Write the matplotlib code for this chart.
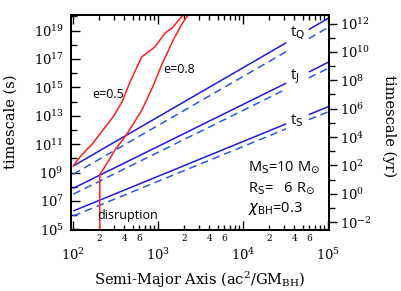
import numpy as np
import matplotlib
matplotlib.use('Agg')
import matplotlib.pyplot as plt
from matplotlib.ticker import FixedLocator, FuncFormatter, NullFormatter

# ---------------- data ----------------
# semi-major axis at the line ends and at the edges of the label gap
a_line = [1e2, 3.2e4, 5.9e4, 1e5]
tQ_solid = [2.9e9, 1.4e18, 1.2e19, 7.4e19]
tQ_dashed = [7.6e8, 3.3e17, 2.7e18, 1.7e19]
tJ_solid = [7.8e7, 2.0e15, 1.2e16, 5.9e16]
tJ_dashed = [3.0e7, 7.6e14, 4.7e15, 2.2e16]
tS_solid = [1.95e6, 2.7e12, 1.2e13, 4.4e13]
tS_dashed = [8.7e5, 1.2e12, 5.4e12, 1.9e13]

a_e05 = [100, 120, 171, 223, 293, 374, 465, 638, 914, 1200, 1449, 1954]
t_e05 = [2.9e9, 1.26e10, 1.2e11, 1.0e12, 8.1e12, 9.3e13, 2.4e15, 1.4e17,
         7.1e17, 6.8e18, 1.5e19, 1.26e20]

a_e08 = [205, 205, 310, 428, 640, 860, 1120, 1500, 1930, 2234]
t_e08 = [9e4, 6.8e8, 3.9e10, 5.2e11, 2.5e13, 1.1e15, 5.2e16, 2.2e18,
         3.5e19, 1.26e20]

x_major = [1e2, 1e3, 1e4, 1e5]
y_left_major_exp = list(range(5, 21, 2))
y_left_minor_exp = list(range(6, 21, 2))
y_right_major_exp = list(range(-2, 13, 2))
y_right_minor_exp = list(range(-1, 13, 2))
sec_per_yr = 3.156e7

# ---------------- style ----------------
plt.rcParams['font.family'] = ['DejaVu Serif']
plt.rcParams['mathtext.fontset'] = 'dejavuserif'

blue = '#1c1cd8'
blue_d = '#2a58e4'
red = '#ff1e1e'

fig = plt.figure(figsize=(4.01, 2.91), dpi=100)
ax = fig.add_axes([70.7 / 401, 1 - 230 / 291, 258.3 / 401, 215 / 291])
ax.set_xscale('log')
ax.set_yscale('log')

for s, d in [(tQ_solid, tQ_dashed), (tJ_solid, tJ_dashed), (tS_solid, tS_dashed)]:
    ax.plot(a_line[:2], s[:2], color=blue, lw=1.1, solid_capstyle='butt')
    ax.plot(a_line[2:], s[2:], color=blue, lw=1.1, solid_capstyle='butt')
    ax.plot(a_line[:2], d[:2], color=blue_d, lw=1.1, dashes=(5, 3.2))
    ax.plot(a_line[2:], d[2:], color=blue_d, lw=1.1, dashes=(5, 3.2))

ax.plot(a_e05, t_e05, color=red, lw=1.1)
ax.plot(a_e08, t_e08, color=red, lw=1.1)

ylo, yhi = 10 ** 4.95, 10 ** 20.1
ax.set_xlim(93.2, 1.019e5)
ax.set_ylim(ylo, yhi)

# x ticks
ax.xaxis.set_major_locator(FixedLocator(x_major))
ax.xaxis.set_major_formatter(FuncFormatter(lambda v, p: r'$10^{%d}$' % round(np.log10(v))))
minor_x = [m * 10.0 ** e for e in (2, 3, 4) for m in range(2, 10)]
ax.xaxis.set_minor_locator(FixedLocator(minor_x))


def minor_fmt(v, p):
    m = int(round(v / 10 ** np.floor(np.log10(v) + 1e-9)))
    return str(m) if m in (2, 4, 6) else ''


ax.xaxis.set_minor_formatter(FuncFormatter(minor_fmt))
ax.tick_params(axis='x', which='major', direction='in', length=6.5, width=1.0,
               top=True, pad=12, labelsize=9.5)
ax.tick_params(axis='x', which='minor', direction='in', length=3.5, width=1.0,
               top=True, pad=3, labelsize=6.5)

# left y ticks
ax.yaxis.set_major_locator(FixedLocator([10.0 ** e for e in y_left_major_exp]))
ax.yaxis.set_major_formatter(FuncFormatter(lambda v, p: r'$10^{%d}$' % round(np.log10(v))))
ax.yaxis.set_minor_locator(FixedLocator([10.0 ** e for e in y_left_minor_exp]))
ax.yaxis.set_minor_formatter(NullFormatter())
ax.tick_params(axis='y', which='major', direction='in', length=6.5, width=1.0,
               right=False, pad=5, labelsize=9.5)
ax.tick_params(axis='y', which='minor', direction='in', length=4.5, width=1.0, right=False)

# right y axis (years)
ax2 = ax.twinx()
ax2.set_yscale('log')
ax2.set_ylim(ylo / sec_per_yr, yhi / sec_per_yr)
ax2.yaxis.set_major_locator(FixedLocator([10.0 ** e for e in y_right_major_exp]))
ax2.yaxis.set_major_formatter(FuncFormatter(lambda v, p: r'$10^{%d}$' % round(np.log10(v))))
ax2.yaxis.set_minor_locator(FixedLocator([10.0 ** e for e in y_right_minor_exp]))
ax2.yaxis.set_minor_formatter(NullFormatter())
ax2.tick_params(axis='y', which='major', direction='out', length=6, width=1.0,
                pad=2, labelsize=9.5)
ax2.tick_params(axis='y', which='minor', direction='out', length=4.5, width=1.0)

for a in (ax, ax2):
    for sp in a.spines.values():
        sp.set_linewidth(1.4)

# axis labels
fig.text(11 / 401, 1 - 122 / 291, 'timescale (s)', rotation=90, ha='center', va='center',
         fontsize=10.5)
fig.text(389 / 401, 1 - 126 / 291, 'timescale (yr)', rotation=270, ha='center', va='center',
         fontsize=10.5)
fig.text(200 / 401, 1 - 280 / 291, r'Semi-Major Axis (ac$^2$/GM$_\mathrm{BH}$)',
         ha='center', va='center', fontsize=10.5)

# annotations
sans = dict(family=['Open Sans', 'DejaVu Sans'], math_fontfamily='dejavusans', fontsize=9)
ax.text(168, 10 ** 14.5, 'e=0.5', ha='left', va='center', **sans)
ax.text(1150, 10 ** 16.23, 'e=0.8', ha='left', va='center', **sans)
ax.text(190, 10 ** 5.94, 'disruption', ha='left', va='center', **sans)

big = dict(sans)
big['fontsize'] = 10.5
ax.text(10 ** 4.555, 10 ** 18.83, r't$_\mathrm{Q}$', ha='left', va='center', **big)
ax.text(10 ** 4.555, 10 ** 15.73, r't$_\mathrm{J}$', ha='left', va='center', **big)
ax.text(10 ** 4.555, 10 ** 12.63, r't$_\mathrm{S}$', ha='left', va='center', **big)

ax.text(0.686, 0.293, r'M$_\mathrm{S}$=10 M$_{\odot}$', transform=ax.transAxes,
        ha='left', va='center', **big)
ax.text(0.686, 0.195, r'R$_\mathrm{S}$=   6 R$_{\odot}$', transform=ax.transAxes,
        ha='left', va='center', **big)
ax.text(0.686, 0.098, r'$\chi_\mathrm{BH}$=0.3', transform=ax.transAxes,
        ha='left', va='center', **big)

fig.savefig('out.png', dpi=100)
